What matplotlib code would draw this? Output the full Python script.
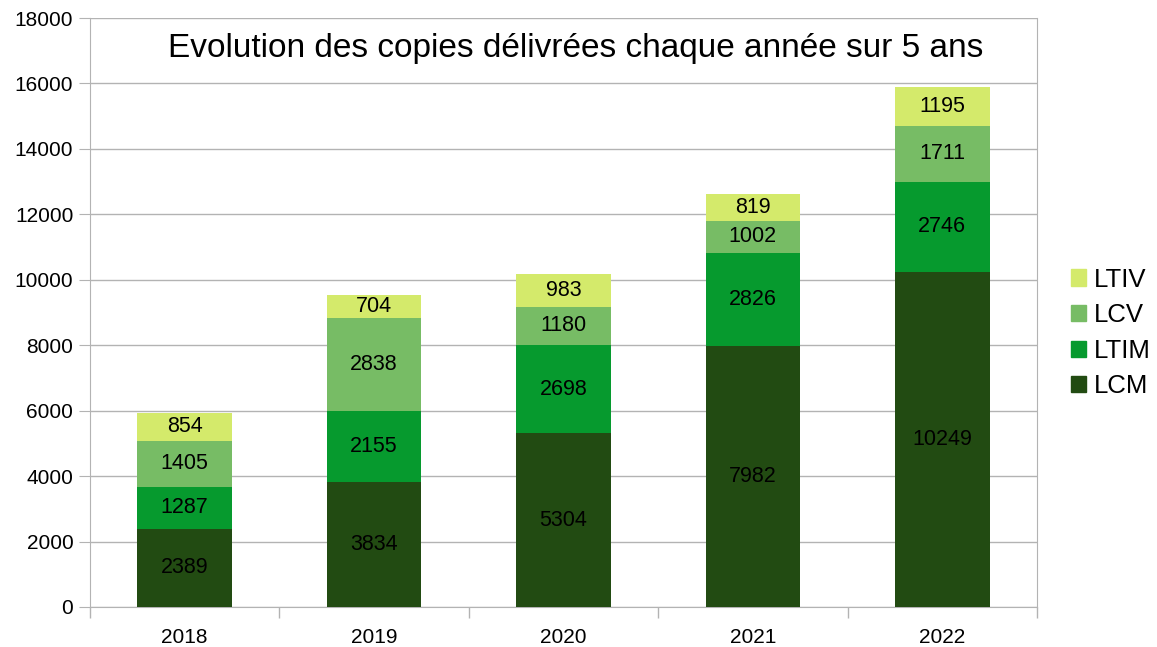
import numpy as np
import matplotlib.pyplot as plt
from matplotlib.patches import Patch

plt.rcParams['font.family'] = ['Liberation Sans', 'DejaVu Sans']

years = ['2018', '2019', '2020', '2021', '2022']
lcm = [2389, 3834, 5304, 7982, 10249]
ltim = [1287, 2155, 2698, 2826, 2746]
lcv = [1405, 2838, 1180, 1002, 1711]
ltiv = [854, 704, 983, 819, 1195]

series = [('LCM', lcm, '#224b12'), ('LTIM', ltim, '#069a2e'),
          ('LCV', lcv, '#77bc65'), ('LTIV', ltiv, '#d4ea6b')]

fig = plt.figure(figsize=(11.57, 6.47), dpi=100)
ax = fig.add_axes([90 / 1157, 40 / 647, 947 / 1157, 589 / 647])

x = np.arange(len(years))
bottom = np.zeros(len(years))
for name, vals, color in series:
    bars = ax.bar(x, vals, 0.5, bottom=bottom, color=color, label=name, zorder=3)
    ax.bar_label(bars, labels=[str(v) for v in vals], label_type='center',
                 fontsize=15.5, color='black', zorder=4)
    bottom += np.array(vals)

ax.set_xlim(-0.5, len(years) - 0.5)
ax.set_ylim(0, 18000)
ax.set_yticks(range(0, 18001, 2000))
ax.set_xticks(x)
ax.set_xticklabels(years)
ax.set_xticks(np.arange(-0.5, len(years)), minor=True)
ax.tick_params(axis='x', which='major', length=0, labelsize=15, pad=15)
ax.tick_params(axis='x', which='minor', length=8, color='#b3b3b3', width=1)
ax.tick_params(axis='y', length=8, color='#b3b3b3', labelsize=15, pad=4)
ax.grid(axis='y', color='#b3b3b3', linewidth=1, zorder=0)
for side in ['left', 'bottom', 'right']:
    ax.spines[side].set_color('#b3b3b3')
ax.spines['top'].set_visible(False)

ax.text(0.513, 0.975, 'Evolution des copies délivrées chaque année sur 5 ans',
        transform=ax.transAxes, ha='center', va='top', fontsize=24)

handles = [Patch(color=c, label=n) for n, _, c in series][::-1]
fig.legend(handles=handles, loc='center left', bbox_to_anchor=(1071 / 1157, 1 - 333 / 647),
           frameon=False, fontsize=18.5, handlelength=0.6, handleheight=0.6,
           handletextpad=0.3, labelspacing=0.45, borderaxespad=0, borderpad=0)

fig.savefig('out.png', dpi=100)
